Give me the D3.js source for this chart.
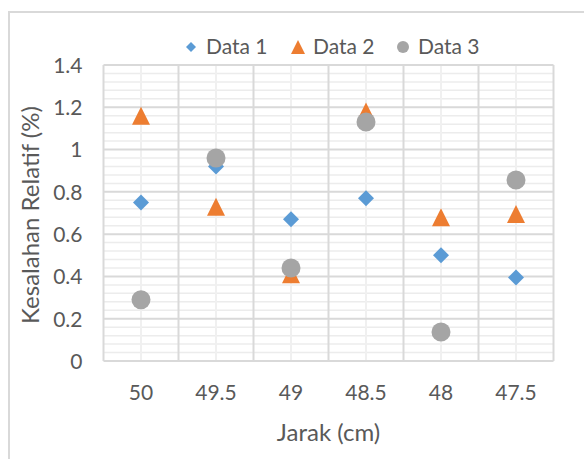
<!DOCTYPE html>
<html>
<head>
<meta charset="utf-8">
<script src="https://cdn.jsdelivr.net/npm/d3@7"></script>
<style>
    body { margin: 0; background: #fff; }
    text { font-family: Lato, "Open Sans", sans-serif; fill: #595959; }
</style>
</head>
<body>
<div id="chart-area"></div>
<script>

// data
const categories = ['50', '49.5', '49', '48.5', '48', '47.5'];
const data1 = [0.75, 0.92, 0.67, 0.77, 0.50, 0.395];
const data2 = [1.16, 0.73, 0.41, 1.18, 0.68, 0.695];
const data3 = [0.29, 0.96, 0.44, 1.13, 0.137, 0.856];
const yTicks = [0, 0.2, 0.4, 0.6, 0.8, 1, 1.2, 1.4];

const seriesNames = ['Data 1', 'Data 2', 'Data 3'];

class ScatterVis {

    constructor(parentElement) {
        this.parentElement = parentElement;
        this.series = [
            {name: seriesNames[0], values: data1, shape: 'diamond', color: '#5b9bd5'},
            {name: seriesNames[1], values: data2, shape: 'triangle', color: '#ed7d31'},
            {name: seriesNames[2], values: data3, shape: 'circle', color: '#a5a5a5'}
        ];
        this.initVis();
    }

    initVis() {
        let vis = this;

        vis.margin = {top: 65, right: 30, bottom: 98, left: 103.5};
        vis.width = 584 - vis.margin.left - vis.margin.right;
        vis.height = 459 - vis.margin.top - vis.margin.bottom;

        vis.root = d3.select('#' + vis.parentElement).append('svg')
            .attr('width', 584)
            .attr('height', 459);

        // chart area border (runs off right and bottom edge)
        vis.root.append('rect')
            .attr('x', 9).attr('y', 12)
            .attr('width', 620).attr('height', 500)
            .attr('fill', 'none')
            .attr('stroke', '#d9d9d9')
            .attr('stroke-width', 2);

        vis.svg = vis.root.append('g')
            .attr('transform', `translate(${vis.margin.left}, ${vis.margin.top})`);

        vis.x = d3.scaleBand()
            .domain(categories)
            .range([0, 450]);

        vis.y = d3.scaleLinear()
            .domain([0, 1.4])
            .range([vis.height, 0]);

        vis.drawGrid();
        vis.drawAxes();
        vis.drawPoints();
        vis.drawLegend();
    }

    drawGrid() {
        let vis = this;
        let w = vis.x.range()[1];

        // minor horizontal lines every 0.04
        let minor = d3.range(0, 36).map(i => i * 0.04).filter(v => Math.abs(v / 0.2 - Math.round(v / 0.2)) > 0.01);
        vis.svg.append('g').selectAll('line')
            .data(minor)
            .enter().append('line')
            .attr('x1', 0).attr('x2', w)
            .attr('y1', d => vis.y(d)).attr('y2', d => vis.y(d))
            .attr('stroke', '#ececec')
            .attr('stroke-width', 1.5);

        // minor vertical lines at category centres
        vis.svg.append('g').selectAll('line')
            .data(categories)
            .enter().append('line')
            .attr('x1', d => vis.x(d) + vis.x.bandwidth() / 2)
            .attr('x2', d => vis.x(d) + vis.x.bandwidth() / 2)
            .attr('y1', 0).attr('y2', vis.height)
            .attr('stroke', '#f0f0f0')
            .attr('stroke-width', 2);

        // major horizontal lines
        vis.svg.append('g').selectAll('line')
            .data(yTicks)
            .enter().append('line')
            .attr('x1', 0).attr('x2', w)
            .attr('y1', d => vis.y(d)).attr('y2', d => vis.y(d))
            .attr('stroke', '#d9d9d9')
            .attr('stroke-width', 2);

        // major vertical lines at category boundaries
        let bounds = categories.map(c => vis.x(c)).concat([w]);
        vis.svg.append('g').selectAll('line')
            .data(bounds)
            .enter().append('line')
            .attr('x1', d => d).attr('x2', d => d)
            .attr('y1', 0).attr('y2', vis.height)
            .attr('stroke', '#d9d9d9')
            .attr('stroke-width', 2);
    }

    drawAxes() {
        let vis = this;

        let yAxis = d3.axisLeft(vis.y).tickValues(yTicks).tickSize(0).tickPadding(21)
            .tickFormat(d => d3.format('')(+d.toFixed(1)));
        vis.svg.append('g')
            .attr('class', 'y-axis')
            .call(yAxis)
            .call(g => g.select('.domain').remove())
            .selectAll('text')
            .attr('font-size', 21)
            .attr('dy', '0.35em');

        let xAxis = d3.axisBottom(vis.x).tickSize(0).tickPadding(0);
        vis.svg.append('g')
            .attr('class', 'x-axis')
            .attr('transform', `translate(0, ${vis.height})`)
            .call(xAxis)
            .call(g => g.select('.domain').remove())
            .selectAll('text')
            .attr('y', 32)
            .attr('dy', '0.35em')
            .attr('font-size', 21);

        vis.svg.selectAll('.tick text').attr('fill', '#595959').style('font-family', 'Lato, sans-serif');

        // axis titles
        vis.root.append('text')
            .attr('x', vis.margin.left + 225)
            .attr('y', 433)
            .attr('dy', '0.35em')
            .attr('text-anchor', 'middle')
            .attr('font-size', 24)
            .text('Jarak (cm)');

        vis.root.append('text')
            .attr('transform', 'translate(31, 215) rotate(-90)')
            .attr('dy', '0.35em')
            .attr('text-anchor', 'middle')
            .attr('font-size', 24)
            .text('Kesalahan Relatif (%)');
    }

    markerPath(shape, size) {
        // size = half width of the marker
        if (shape === 'diamond') {
            return `M0,${-size}L${size},0L0,${size}L${-size},0Z`;
        }
        if (shape === 'triangle') {
            return `M0,${-size}L${size},${size}L${-size},${size}Z`;
        }
        return d3.arc()({innerRadius: 0, outerRadius: size, startAngle: 0, endAngle: 2 * Math.PI});
    }

    drawPoints() {
        let vis = this;
        let sizes = {diamond: 8, triangle: 9, circle: 9.5};

        vis.series.forEach(s => {
            vis.svg.append('g').selectAll('path')
                .data(s.values)
                .enter().append('path')
                .attr('transform', (d, i) => `translate(${vis.x(categories[i]) + vis.x.bandwidth() / 2}, ${vis.y(d)})`)
                .attr('d', vis.markerPath(s.shape, sizes[s.shape]))
                .attr('fill', s.color);
        });
    }

    drawLegend() {
        let vis = this;
        let positions = [191, 298, 403];
        let sizes = {diamond: 5, triangle: 7, circle: 6};

        let items = vis.root.append('g').selectAll('g')
            .data(vis.series)
            .enter().append('g')
            .attr('transform', (d, i) => `translate(${positions[i]}, 47)`);

        items.append('path')
            .attr('d', d => vis.markerPath(d.shape, sizes[d.shape]))
            .attr('fill', d => d.color);

        items.append('text')
            .attr('x', 15)
            .attr('dy', '0.35em')
            .attr('font-size', 21)
            .text(d => d.name);
    }
}

new ScatterVis('chart-area');

</script>
</body>
</html>
